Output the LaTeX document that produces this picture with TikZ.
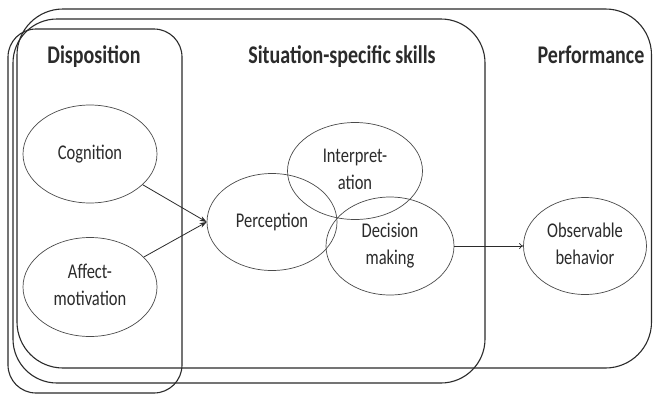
\documentclass[tikz,border=0pt]{standalone}
\usepackage{fontspec}
\usepackage{graphicx}
\setmainfont{Carlito}
\usetikzlibrary{shapes.geometric,arrows.meta}
\definecolor{ink}{HTML}{2B2B2B}
\definecolor{edge}{HTML}{4A4A4A}
% labels are set in a slightly tall (vertically stretched) face
\newcommand{\tallface}[1]{\scalebox{1}[1.27]{\begin{tabular}{@{}c@{}}#1\end{tabular}}}
\tikzset{
  frame/.style={draw=ink, line width=1.1pt},
  heading/.style={text=ink, font=\fontsize{20}{24}\selectfont\bfseries, anchor=center},
  bubble/.style={ellipse, draw=edge, line width=0.7pt, inner sep=0pt, text=ink,
    font=\fontsize{16.5}{21.3}\selectfont},
  link/.style={draw=ink, line width=0.8pt, -{Stealth[length=7pt,width=5pt]}},
  thinlink/.style={draw=ink, line width=0.7pt, -{To[length=4pt,width=6pt]}}
}
\begin{document}
\begin{tikzpicture}[x=1pt,y=-1pt]
\useasboundingbox (0,0) rectangle (653,394);
\fill[white] (0,0) rectangle (653,394);

% nested group frames
\draw[frame, rounded corners=46pt] (17,9) rectangle (651.5,368);
\draw[frame, rounded corners=44pt] (13,19) rectangle (485,383);
\draw[frame, rounded corners=28pt] (8,29) rectangle (182,393);

% group headings
\node[heading] (hdisp) at (94,57) {\tallface{Disposition}};
\node[heading] (hsit) at (342,57) {\tallface{Situation-specific skills}};
\node[heading] (hperf) at (591,57) {\tallface{Performance}};

% concepts
\node[bubble, minimum width=134pt, minimum height=98pt] (cog) at (90,154) {\tallface{Cognition}};
\node[bubble, minimum width=134pt, minimum height=99pt] (aff) at (90,287) {\tallface{Affect-\\motivation}};
\node[bubble, minimum width=130pt, minimum height=97pt] (per) at (272,222) {\tallface{Perception}};
\node[bubble, minimum width=135pt, minimum height=97pt] (int) at (355,171) {\tallface{Interpret-\\ation}};
\node[bubble, minimum width=128pt, minimum height=98pt] (dec) at (390,246) {\tallface{Decision\\making}};
\node[bubble, minimum width=123pt, minimum height=97pt] (obs) at (585,246) {\tallface{Observable\\behavior}};

% influences
\draw[link] (cog) -- (per.west);
\draw[link] (aff) -- (per.west);
\draw[thinlink] (dec.east) -- (obs.west);
\end{tikzpicture}
\end{document}
